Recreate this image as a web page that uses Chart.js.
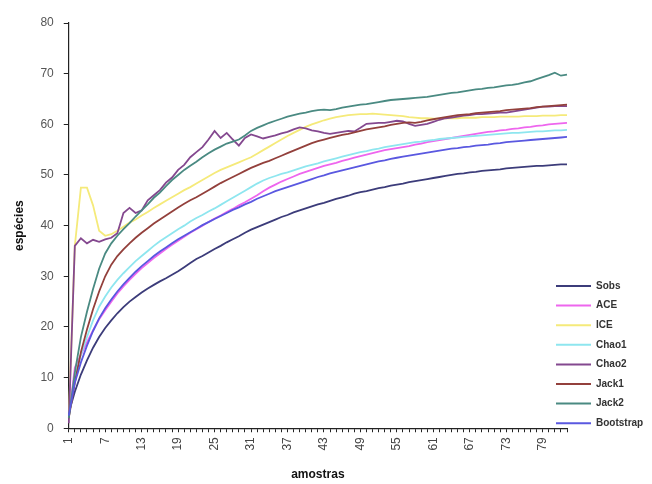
<!DOCTYPE html>
<html>
<head>
<meta charset="utf-8">
<script src="https://cdn.jsdelivr.net/npm/chart.js@4.4.1/dist/chart.umd.min.js"></script>
<style>
  html, body { margin: 0; padding: 0; background: #fff; }
  canvas { display: block; }
</style>
</head>
<body>
<canvas id="grafico" width="652" height="484"></canvas>
<script>
// amostras 1..83
const amostras = Array.from({ length: 83 }, (_, i) => String(i + 1));
const ticksY = [0, 10, 20, 30, 40, 50, 60, 70, 80];

const sobs = [3.0, 7.2, 10.6, 13.4, 15.9, 18.0, 19.8, 21.3, 22.7, 23.9,
  25.0, 25.9, 26.8, 27.6, 28.3, 29.0, 29.6, 30.3, 31.0, 31.8,
  32.6, 33.4, 34.0, 34.7, 35.4, 36.0, 36.7, 37.3, 37.9, 38.6,
  39.2, 39.7, 40.2, 40.7, 41.2, 41.7, 42.1, 42.6, 43.0, 43.4,
  43.8, 44.2, 44.5, 44.9, 45.3, 45.6, 45.9, 46.3, 46.6, 46.8,
  47.1, 47.4, 47.6, 47.9, 48.1, 48.3, 48.6, 48.8, 49.0, 49.2,
  49.4, 49.6, 49.8, 50.0, 50.2, 50.3, 50.5, 50.6, 50.8, 50.9,
  51.0, 51.1, 51.3, 51.4, 51.5, 51.6, 51.7, 51.8, 51.8, 51.9,
  52.0, 52.1, 52.1];

const ace = [2.0, 12.0, 14.5, 17.0, 19.3, 21.5, 23.3, 25.0, 26.6, 28.0,
  29.3, 30.5, 31.6, 32.6, 33.6, 34.5, 35.4, 36.2, 37.0, 37.8,
  38.6, 39.3, 40.0, 40.7, 41.4, 42.0, 42.7, 43.3, 44.0, 44.6,
  45.3, 46.0, 46.8, 47.5, 48.1, 48.7, 49.2, 49.7, 50.2, 50.6,
  51.0, 51.4, 51.8, 52.1, 52.4, 52.8, 53.1, 53.4, 53.7, 54.0,
  54.3, 54.6, 54.9, 55.1, 55.3, 55.5, 55.7, 56.0, 56.2, 56.5,
  56.7, 56.9, 57.1, 57.3, 57.5, 57.7, 57.9, 58.1, 58.3, 58.5,
  58.6, 58.8, 58.9, 59.1, 59.2, 59.4, 59.5, 59.7, 59.8, 60.0,
  60.1, 60.2, 60.3];

const ice = [2.0, 36.0, 47.5, 47.5, 44.0, 39.0, 38.0, 38.3, 39.0, 39.8,
  40.6, 41.2, 42.0, 42.7, 43.5, 44.2, 44.9, 45.6, 46.3, 47.0,
  47.6, 48.3, 49.0, 49.7, 50.4, 51.0, 51.5, 52.0, 52.5, 53.0,
  53.5, 54.2, 54.9, 55.6, 56.3, 57.0, 57.7, 58.3, 58.9, 59.5,
  60.0, 60.4, 60.8, 61.1, 61.4, 61.6, 61.8, 61.9, 62.0, 62.0,
  62.1, 62.0, 61.9, 61.8, 61.7, 61.6, 61.4, 61.3, 61.2, 61.2,
  61.1, 61.1, 61.2, 61.2, 61.2, 61.3, 61.3, 61.3, 61.4, 61.4,
  61.4, 61.5, 61.5, 61.5, 61.5, 61.6, 61.6, 61.6, 61.7, 61.7,
  61.7, 61.8, 61.8];

const chao1 = [2.0, 10.0, 14.5, 18.0, 21.3, 24.0, 26.0, 27.8, 29.3, 30.6,
  31.8, 33.0, 34.0, 35.0, 36.0, 36.9, 37.7, 38.5, 39.3, 40.0,
  40.8, 41.5, 42.1, 42.8, 43.4, 44.1, 44.8, 45.5, 46.2, 46.9,
  47.6, 48.3, 48.9, 49.4, 49.8, 50.2, 50.5, 50.9, 51.3, 51.7,
  52.0, 52.3, 52.7, 53.0, 53.3, 53.6, 53.9, 54.2, 54.5, 54.7,
  55.0, 55.2, 55.5, 55.7, 55.9, 56.1, 56.3, 56.5, 56.6, 56.8,
  56.9, 57.1, 57.2, 57.3, 57.4, 57.5, 57.6, 57.7, 57.8, 57.9,
  58.0, 58.1, 58.2, 58.3, 58.3, 58.4, 58.5, 58.6, 58.6, 58.7,
  58.8, 58.8, 58.9];

const chao2 = [1.0, 36.0, 37.5, 36.5, 37.2, 36.8, 37.3, 37.6, 38.5, 42.5,
  43.5, 42.5, 43.0, 45.0, 46.0, 47.0, 48.5, 49.5, 51.0, 52.0,
  53.5, 54.5, 55.5, 57.0, 58.7, 57.3, 58.3, 57.0, 55.8, 57.3,
  58.0, 57.6, 57.2, 57.5, 57.8, 58.2, 58.5, 59.0, 59.4, 59.2,
  58.8, 58.6, 58.3, 58.1, 58.3, 58.5, 58.7, 58.6, 59.3, 60.1,
  60.2, 60.3, 60.3, 60.5, 60.7, 60.6, 60.1, 59.7, 59.9, 60.1,
  60.5, 60.9, 61.2, 61.3, 61.5, 61.7, 61.8, 62.0, 62.0, 62.1,
  62.2, 62.3, 62.3, 62.5, 62.7, 62.9, 63.1, 63.3, 63.5, 63.5,
  63.6, 63.6, 63.6];

const jack1 = [2.0, 9.0, 15.0, 19.5, 23.5, 27.0, 30.0, 32.3, 34.0, 35.3,
  36.5, 37.6, 38.6, 39.5, 40.4, 41.2, 42.0, 42.8, 43.6, 44.3,
  45.0, 45.6, 46.3, 47.0, 47.7, 48.4, 49.0, 49.6, 50.2, 50.8,
  51.4, 51.9, 52.4, 52.8, 53.3, 53.8, 54.3, 54.8, 55.3, 55.8,
  56.3, 56.7, 57.0, 57.3, 57.6, 57.9, 58.1, 58.4, 58.7, 59.0,
  59.2, 59.4, 59.6, 59.9, 60.1, 60.3, 60.4, 60.3, 60.5, 60.8,
  61.0, 61.2, 61.4, 61.6, 61.8, 61.9, 62.0, 62.2, 62.3, 62.4,
  62.5, 62.6, 62.8, 62.9, 63.0, 63.1, 63.2, 63.4, 63.5, 63.6,
  63.7, 63.8, 63.9];

const jack2 = [2.0, 11.0, 18.0, 23.0, 27.5, 31.5, 34.5, 36.5, 38.0, 39.3,
  40.5, 41.8, 43.0, 44.2, 45.5, 46.5, 47.8, 49.0, 50.0, 51.0,
  51.8, 52.6, 53.5, 54.3, 55.0, 55.6, 56.2, 56.6, 57.0, 57.8,
  58.7, 59.3, 59.8, 60.3, 60.7, 61.1, 61.5, 61.8, 62.1, 62.3,
  62.6, 62.8, 62.9, 62.8, 63.0, 63.3, 63.5, 63.7, 63.9, 64.0,
  64.2, 64.4, 64.6, 64.8, 64.9, 65.0, 65.1, 65.2, 65.3, 65.4,
  65.6, 65.8, 66.0, 66.2, 66.3, 66.5, 66.7, 66.9, 67.0, 67.2,
  67.3, 67.5, 67.7, 67.8, 68.0, 68.3, 68.5, 68.9, 69.3, 69.7,
  70.2, 69.6, 69.8];

const bootstrap = [2.5, 9.0, 13.0, 16.3, 19.2, 21.7, 23.7, 25.4, 27.0, 28.4,
  29.7, 30.9, 32.0, 33.0, 34.0, 34.9, 35.7, 36.5, 37.3, 38.0,
  38.7, 39.4, 40.1, 40.7, 41.3, 41.9, 42.5, 43.1, 43.6, 44.2,
  44.7, 45.3, 45.8, 46.3, 46.8, 47.2, 47.6, 48.0, 48.4, 48.8,
  49.2, 49.6, 49.9, 50.3, 50.6, 50.9, 51.2, 51.5, 51.8, 52.1,
  52.4, 52.7, 52.9, 53.2, 53.4, 53.6, 53.8, 54.0, 54.2, 54.4,
  54.6, 54.8, 55.0, 55.2, 55.3, 55.5, 55.6, 55.8, 55.9, 56.0,
  56.2, 56.3, 56.5, 56.6, 56.7, 56.8, 56.9, 57.0, 57.1, 57.2,
  57.3, 57.4, 57.5];

const nomes = ['Sobs', 'ACE', 'ICE', 'Chao1', 'Chao2', 'Jack1', 'Jack2', 'Bootstrap'];
const valores = [sobs, ace, ice, chao1, chao2, jack1, jack2, bootstrap];
const cores = ['#3c3c7a', '#ee66ee', '#f5ea7a', '#8ee6ef', '#84488f', '#93403c', '#4a8a82', '#5a58e0'];

// legenda desenhada à mão, no canto direito como no Excel
const legendaExcel = {
  id: 'legendaExcel',
  afterDraw(chart) {
    const ctx = chart.ctx;
    ctx.save();
    ctx.font = 'bold 10px Arial, "Liberation Sans", sans-serif';
    ctx.textBaseline = 'middle';
    chart.data.datasets.forEach((ds, i) => {
      const y = 286 + i * 19.6;
      ctx.strokeStyle = ds.borderColor;
      ctx.lineWidth = 2;
      ctx.beginPath();
      ctx.moveTo(556, y);
      ctx.lineTo(591, y);
      ctx.stroke();
      ctx.fillStyle = '#333';
      ctx.fillText(ds.label, 596, y);
    });
    ctx.restore();
  }
};

const ctx = document.getElementById('grafico').getContext('2d');
new Chart(ctx, {
  type: 'line',
  data: {
    labels: amostras,
    datasets: valores.map((v, i) => ({
      label: nomes[i],
      data: v,
      borderColor: cores[i],
      backgroundColor: cores[i],
      borderWidth: 1.8,
      pointRadius: 0,
      tension: 0,
      order: nomes.length - i
    }))
  },
  options: {
    responsive: false,
    animation: false,
    layout: { padding: { left: 12, right: 85, top: 23, bottom: 2 } },
    plugins: {
      legend: { display: false },
      tooltip: { enabled: false }
    },
    scales: {
      x: {
        offset: false,
        grid: { display: true, drawOnChartArea: false, color: '#222', tickLength: 4 },
        border: { color: '#222', width: 1.2 },
        ticks: {
          autoSkip: false,
          maxRotation: 90,
          minRotation: 90,
          padding: 5,
          color: '#444',
          font: { family: 'Arial, "Liberation Sans", sans-serif', size: 12 },
          callback: function (val, idx) {
            return idx % 6 === 0 ? amostras[idx] : '';
          }
        },
        title: {
          display: true,
          text: 'amostras',
          color: '#111',
          font: { family: 'Arial, "Liberation Sans", sans-serif', size: 12, weight: 'bold' },
          padding: { top: 12, bottom: 0 }
        }
      },
      y: {
        min: 0,
        max: 80,
        afterBuildTicks: (axis) => { axis.ticks = ticksY.map(v => ({ value: v })); },
        grid: { display: true, drawOnChartArea: false, color: '#222', tickLength: 5 },
        border: { color: '#222', width: 1.2 },
        ticks: {
          color: '#555',
          padding: 10,
          font: { family: 'Arial, "Liberation Sans", sans-serif', size: 12 }
        },
        title: {
          display: true,
          text: 'espécies',
          color: '#111',
          font: { family: 'Arial, "Liberation Sans", sans-serif', size: 12, weight: 'bold' },
          padding: { top: 0, bottom: 4 }
        }
      }
    }
  },
  plugins: [legendaExcel]
});
</script>
</body>
</html>
